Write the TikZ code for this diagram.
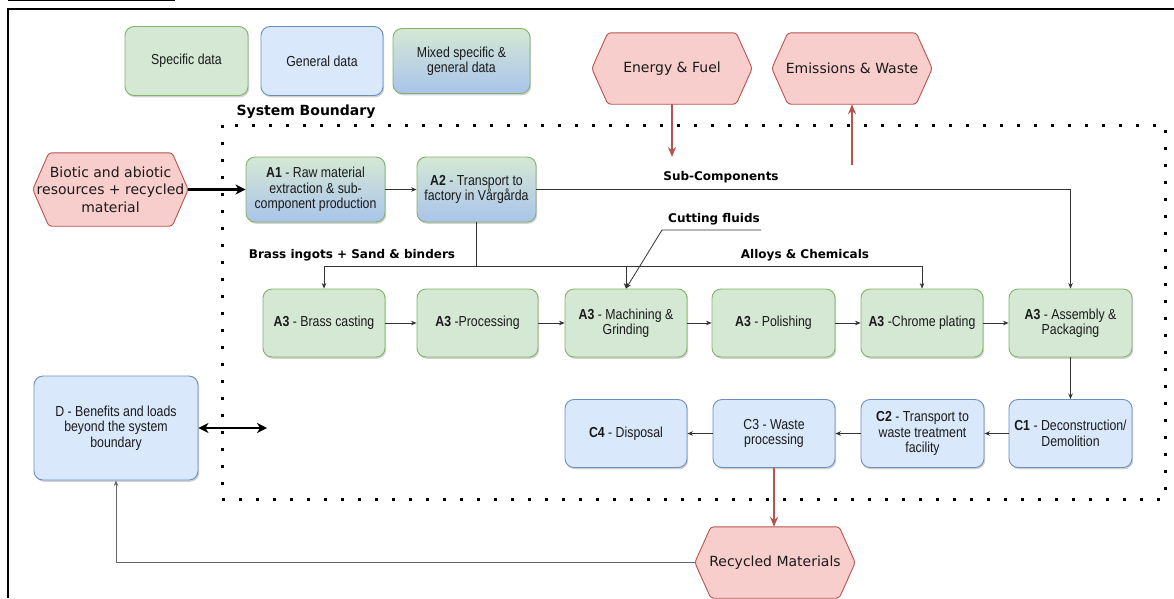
\documentclass[tikz,border=0pt]{standalone}
\usepackage{fontspec}
\setmainfont{Liberation Sans}
\newfontfamily\boxfont[FakeStretch=0.85]{Liberation Sans}
\newfontfamily\hexfont{DejaVu Sans}
\newfontfamily\lblfont{DejaVu Sans}
\usetikzlibrary{arrows.meta,shadows,backgrounds,calc}
\definecolor{gfill}{HTML}{D5E8D4}
\definecolor{gline}{HTML}{82B366}
\definecolor{bfill}{HTML}{DAE8FC}
\definecolor{bline}{HTML}{6C8EBF}
\definecolor{gradb}{HTML}{A9C4EB}
\definecolor{rfill}{HTML}{F8CECC}
\definecolor{rline}{HTML}{B85450}
\definecolor{txt}{HTML}{1A1A1A}
\definecolor{cline}{HTML}{333333}
\begin{document}
\begin{tikzpicture}[x=1pt,y=-1pt,
  box/.style={rounded corners=9pt, line width=0.9pt, align=center,
    font=\boxfont\fontsize{14.5}{15.5}\selectfont, text=txt, inner sep=2pt,
    drop shadow={shadow xshift=1.2pt,shadow yshift=-1.8pt,opacity=0.35}},
  gbox/.style={box, draw=gline, fill=gfill},
  bbox/.style={box, draw=bline, fill=bfill},
  mbox/.style={box, draw=gline, top color=gfill, bottom color=gradb},
  rowbox/.style={minimum width=122pt, minimum height=68pt},
  hexnode/.style={align=center, font=\hexfont\fontsize{14}{17.5}\selectfont, text=txt, inner sep=0pt},
  lbl/.style={font=\lblfont\bfseries\fontsize{12}{14}\selectfont, text=black, inner sep=0pt},
  conn/.style={draw=cline, line width=0.8pt, -{Stealth[length=5.5pt,width=4.5pt]}},
  plain/.style={draw=cline, line width=0.8pt},
  redarrow/.style={draw=rline, line width=2pt, -{Stealth[length=10pt,width=8pt]}},
  bigarrow/.style={draw=black, line width=2.2pt, -{Stealth[length=10pt,width=10pt,inset=3pt]}},
  dblarrow/.style={draw=black, line width=2.2pt, {Stealth[length=10pt,width=10pt,inset=3pt]}-{Stealth[length=10pt,width=10pt,inset=3pt]}},
  boundary/.style={draw=black, line width=3pt, dash pattern=on 3pt off 14pt}
]
\useasboundingbox (0,0) rectangle (1174,598);

% outer frame and title underline
\draw[line width=2pt] (8,598) -- (8,9) -- (1174,9);
\draw[line width=0.8pt] (8,0.6) -- (175,0.6);

% legend
\node[gbox, minimum width=123pt, minimum height=69pt] (spec) at (186.5,61) {Specific data};
\node[bbox, minimum width=122pt, minimum height=69pt] (gen) at (322,61) {General data};
\node[mbox, minimum width=137pt, minimum height=65pt] (mix) at (461.5,61) {Mixed specific \&\\general data};

% system boundary
\draw[boundary] (222,125) rectangle (1165,499);
\node[lbl, font=\lblfont\bfseries\fontsize{14}{16}\selectfont] (sb) at (306,112) {System Boundary};

% hexagon nodes
\node[hexnode, minimum width=160pt, minimum height=71pt] (ef) at (672,68.5) {Energy \& Fuel};
\node[hexnode, minimum width=160pt, minimum height=71pt] (ew) at (852,68.5) {Emissions \& Waste};
\node[hexnode, minimum width=155pt, minimum height=73pt] (bio) at (110.5,189.5) {Biotic and abiotic\\resources + recycled\\material};
\node[hexnode, minimum width=160pt, minimum height=71pt] (rec) at (775,562.5) {Recycled Materials};

% A1, A2
\node[mbox, minimum width=139pt, minimum height=65pt] (a1) at (315.5,189.5) {\textbf{A1} - Raw material\\extraction \& sub-\\component production};
\node[mbox, minimum width=119pt, minimum height=65pt] (a2) at (476.5,189.5) {\textbf{A2} - Transport to\\factory in Vårgårda};

% A3 row
\node[gbox, rowbox] (bc) at (324,323) {\textbf{A3} - Brass casting};
\node[gbox, rowbox, minimum width=121pt] (pr) at (477.5,323) {\textbf{A3} -Processing};
\node[gbox, rowbox] (mg) at (626,323) {\textbf{A3} - Machining \&\\Grinding};
\node[gbox, rowbox, minimum width=123pt] (po) at (773.5,323) {\textbf{A3} - Polishing};
\node[gbox, rowbox] (cp) at (922,323) {\textbf{A3} -Chrome plating};
\node[gbox, rowbox, minimum width=123pt] (ap) at (1070.5,323) {\textbf{A3} - Assembly \&\\Packaging};

% C row
\node[bbox, rowbox] (c4) at (626,433.5) {\textbf{C4} - Disposal};
\node[bbox, rowbox] (c3) at (774,433.5) {C3 - Waste\\processing};
\node[bbox, rowbox, minimum width=123pt] (c2) at (922.5,433.5) {\textbf{C2} - Transport to\\waste treatment\\facility};
\node[bbox, rowbox, minimum width=123pt] (c1) at (1070.5,433.5) {\textbf{C1} - Deconstruction/\\Demolition};

% D
\node[bbox, minimum width=164pt, minimum height=104pt] (d) at (116,428) {D - Benefits and loads\\beyond the system\\boundary};

% hexagon outlines behind their texts
\begin{scope}[on background layer]
\fill[white] (0,0) rectangle (1174,598);
\foreach \n/\k in {ef/16,ew/16,bio/16,rec/16} {
  \draw[draw=rline, fill=rfill, line width=0.9pt, rounded corners=3pt]
    (\n.west) -- ($(\n.north west)+(\k,0)$) -- ($(\n.north east)+(-\k,0)$)
    -- (\n.east) -- ($(\n.south east)+(-\k,0)$) -- ($(\n.south west)+(\k,0)$) -- cycle;
}
\end{scope}

% labels
\node[lbl] (subc) at (721,177) {Sub-Components};
\node[lbl] (brass) at (352,255) {Brass ingots + Sand \& binders};
\node[lbl] (alloys) at (805,255) {Alloys \& Chemicals};
\node[lbl] (cutf) at (714,219) {Cutting fluids};

% coordinates for free ends
\coordinate (jl) at (324,266);
\coordinate (jr) at (922,266);
\coordinate (cf1) at (761,230);
\coordinate (cf2) at (662,230);
\coordinate (efend) at (672,157);
\coordinate (ewstart) at (852,165);
\coordinate (dend) at (267,428);

% connectors
\draw[bigarrow] (bio.east) -- (a1.west);
\draw[conn] (a1.east) -- (a2.west);
\draw[conn] (a2.east) -| (ap.north);
\draw[plain] (a2.south) -- (a2.south |- jl);
\draw[plain] (jl) -- (jr);
\draw[conn] (jl) -- (bc.north);
\draw[conn] (mg.north |- jl) -- (mg.north);
\draw[conn] (jr) -- (cp.north);
\draw[conn] (cf1) -- (cf2) -- (mg.north);

\draw[conn] (bc.east) -- (pr.west);
\draw[conn] (pr.east) -- (mg.west);
\draw[conn] (mg.east) -- (po.west);
\draw[conn] (po.east) -- (cp.west);
\draw[conn] (cp.east) -- (ap.west);
\draw[conn] (ap.south) -- (c1.north);
\draw[conn] (c1.west) -- (c2.east);
\draw[conn] (c2.west) -- (c3.east);
\draw[conn] (c3.west) -- (c4.east);

\draw[redarrow] (ef.south) -- (efend);
\draw[redarrow] (ewstart) -- (ew.south);
\draw[redarrow] (c3.south) -- (c3.south |- rec.north);

\draw[dblarrow] (d.east) -- (dend);
\draw[conn, draw=black!60] (rec.west) -| (d.south);
\end{tikzpicture}
\end{document}
